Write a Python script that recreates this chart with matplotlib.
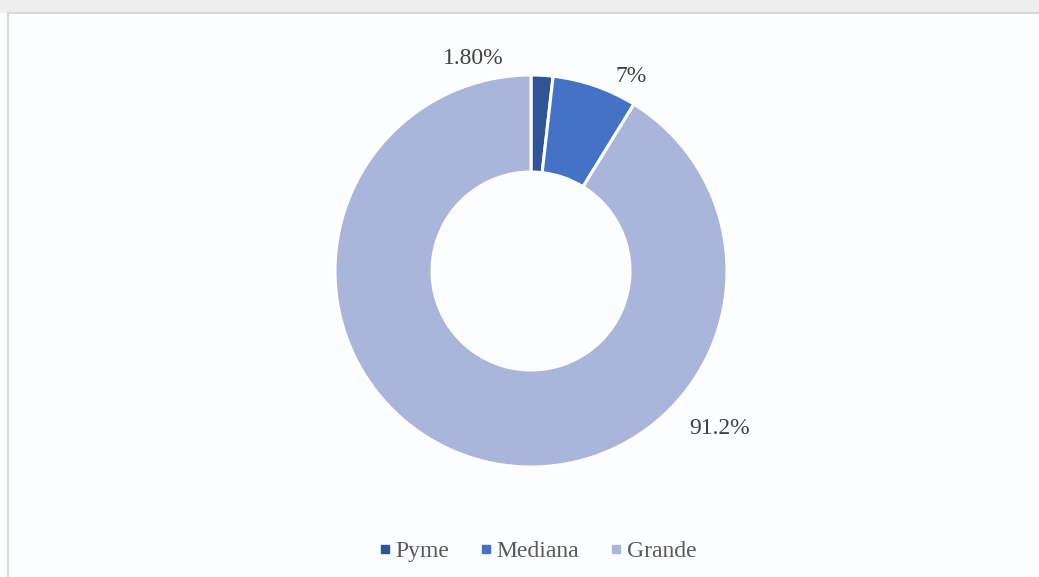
import matplotlib
matplotlib.use("Agg")
import matplotlib.pyplot as plt
from matplotlib.lines import Line2D
from matplotlib.patches import Rectangle

categories = ["Pyme", "Mediana", "Grande"]
values = [1.8, 7.0, 91.2]
value_labels = ["1.80%", "7%", "91.2%"]
colors = ["#2F5597", "#4472C4", "#A9B5DA"]

W, H = 1039, 577
fig = plt.figure(figsize=(W / 100, H / 100), dpi=100, facecolor="#fcfdfe")
ax = fig.add_axes([0, 0, 1, 1])
ax.set_xlim(0, W)
ax.set_ylim(0, H)
ax.axis("off")

# top grey strip and chart border
ax.add_patch(Rectangle((0, H - 13), W, 13, facecolor="#eeeeee", edgecolor="none", zorder=0))
ax.plot([8, 8, W], [0, H - 13, H - 13], color="#d9d9d9", lw=1.6, zorder=1)

cx, cy, r = 531, H - 271, 196
wedges, _ = ax.pie(values, colors=colors, startangle=90, counterclock=False,
                   center=(cx, cy), radius=r,
                   wedgeprops=dict(width=r * 0.495, edgecolor="white", linewidth=2.2),
                   frame=True)
ax.set_xlim(0, W)
ax.set_ylim(0, H)
ax.set_aspect("equal")
ax.axis("off")

label_pos = [(473, H - 58), (631, H - 77), (720, H - 428)]
for (x, y), t in zip(label_pos, value_labels):
    ax.text(x, y, t, ha="center", va="center", fontsize=17,
            family="Liberation Serif", color="#404040")

handles = [Line2D([0], [0], marker="s", linestyle="none", markersize=6,
                  markerfacecolor=c, markeredgecolor=c) for c in colors]
leg = ax.legend(handles, categories, loc="center", bbox_to_anchor=(536 / W, 1 - 551 / H),
                ncol=3, frameon=False, handletextpad=0.05, columnspacing=1.15,
                prop=dict(family="Liberation Serif", size=17), handlelength=0.8)
for t in leg.get_texts():
    t.set_color("#595959")

fig.savefig("out.png", dpi=100, facecolor=fig.get_facecolor())
